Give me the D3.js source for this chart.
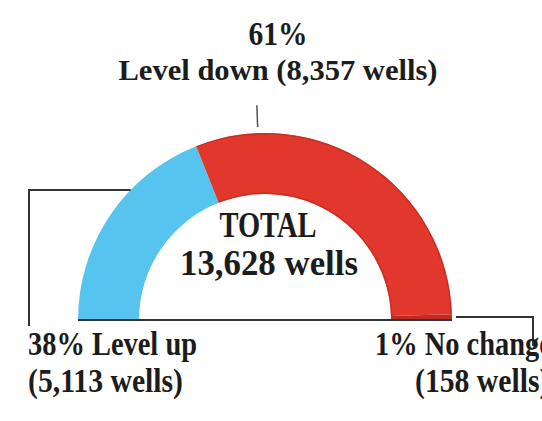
<!DOCTYPE html>
<html>
<head>
<meta charset="utf-8">
<script src="https://cdn.jsdelivr.net/npm/d3@7"></script>
<style>
  html, body { margin: 0; padding: 0; background: #fff; }
  svg { display: block; }
  text { font-family: 'Liberation Serif', 'Times New Roman', serif; font-weight: bold; fill: #1c1c1c; }
</style>
</head>
<body>
<div id="chart"></div>
<script>
// Data
const categories = ['Level up', 'Level down', 'No change']
const shares = [38, 61, 1]
const wells = [5113, 8357, 158]
const totalWells = 13628
const colors = ['#56c4ee', '#e2372c', '#c02a23']

;(() => {
  const width = 542
  const height = 421
  const cx = 265
  const cy = 320
  const outerR = 187
  const innerR = 126

  const svg = d3.select('#chart')
    .append('svg')
    .attr('width', width)
    .attr('height', height)

  const g = svg.append('g')
    .attr('transform', `translate(${cx}, ${cy})`)

  const data = categories.map((c, i) => ({ cat: c, share: shares[i], wells: wells[i], color: colors[i] }))

  // Half donut from left (-90deg) to right (+90deg)
  const pie = d3.pie()
    .sort(null)
    .value(d => d.share)
    .startAngle(-Math.PI / 2)
    .endAngle(Math.PI / 2)

  const arc = d3.arc()
    .innerRadius(innerR)
    .outerRadius(outerR)

  const arcs = pie(data)

  g.selectAll('path.slice')
    .data(arcs)
    .join('path')
    .attr('class', 'slice')
    .attr('fill', d => d.data.color)
    .attr('d', arc)

  // Dark rims on the red slice
  const rim = d3.arc().innerRadius(outerR - 1.5).outerRadius(outerR)
  const rimIn = d3.arc().innerRadius(innerR).outerRadius(innerR + 1.5)
  g.append('path').attr('fill', '#b52a22').attr('opacity', 0.6).attr('d', rim(arcs[1]))
  g.append('path').attr('fill', '#b52a22').attr('opacity', 0.6).attr('d', rimIn(arcs[1]))

  const lineColor = '#333'

  // Baseline under the arc
  g.append('line')
    .attr('x1', -outerR).attr('x2', outerR)
    .attr('y1', 0).attr('y2', 0)
    .attr('stroke', lineColor)
    .attr('stroke-width', 2)

  // Leader for "Level down" near the top
  const topAng = -0.038
  g.append('line')
    .attr('x1', Math.sin(topAng) * (outerR + 6)).attr('y1', -Math.cos(topAng) * (outerR + 6))
    .attr('x2', Math.sin(topAng) * (outerR + 28)).attr('y2', -Math.cos(topAng) * (outerR + 28))
    .attr('stroke', '#555')
    .attr('stroke-width', 1.5)

  // Bracket for "Level up" on the left
  const ly = -130
  const lx = -Math.sqrt(outerR * outerR - ly * ly)
  g.append('path')
    .attr('fill', 'none')
    .attr('stroke', lineColor)
    .attr('stroke-width', 2)
    .attr('d', `M${lx},${ly} H${29 - cx} V${6}`)

  // Bracket for "No change" on the right
  g.append('path')
    .attr('fill', 'none')
    .attr('stroke', lineColor)
    .attr('stroke-width', 2)
    .attr('d', `M${outerR + 4},${-3} H${533 - cx} V${26}`)

  const fmt = d3.format(',')

  // Text helper: compress text to a target width
  function label(str, x, y, size, anchor, fitWidth, squeeze) {
    const t = svg.append('text')
      .attr('x', x)
      .attr('y', y)
      .attr('font-size', size)
      .attr('text-anchor', anchor)
      .text(str)
    const natural = t.node().getComputedTextLength()
    const w = fitWidth || natural * squeeze
    t.attr('textLength', w).attr('lengthAdjust', 'spacingAndGlyphs')
    t.node().__ratio = w / natural
    return t
  }

  const top = data[1]
  label(`${top.share}%`, 278, 45, 34, 'middle', 59)
  label(`${top.cat} (${fmt(top.wells)} wells)`, 278, 80, 29, 'middle', 319)

  label('TOTAL', 268, 237, 35, 'middle', 97)
  label(`${fmt(totalWells)} wells`, 269, 275, 35, 'middle', 178)

  const up = data[0]
  const upA = label(`${up.share}% ${up.cat}`, 28, 355, 34, 'start', 169)
  const upB = label(`(${fmt(up.wells)} wells)`, 28, 392, 34, 'start', 155)

  // Same squeeze as the left labels; the reference runs these off the right edge
  const nc = data[2]
  label(`${nc.share}% ${nc.cat}`, 375, 355, 34, 'start', null, upA.node().__ratio)
  label(`(${fmt(nc.wells)} wells)`, 415, 392, 34, 'start', null, upB.node().__ratio)
})()
</script>
</body>
</html>
